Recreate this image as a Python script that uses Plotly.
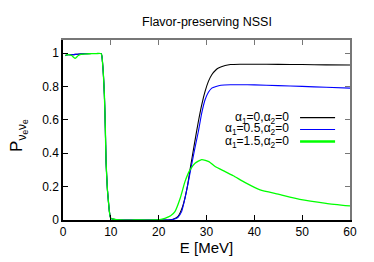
import plotly.graph_objects as go

# Energy grids and survival probabilities
E_black = [0.5, 1, 2, 3, 4, 5, 6, 7, 8, 8.3, 8.65, 8.85, 9.0, 9.27, 9.5, 9.7, 10.0, 12, 15, 20, 22, 23, 24, 25, 26, 26.55, 27.5, 28.3, 29, 29.7, 30.4, 31.1, 32, 32.5, 33.9, 35, 37, 40, 45, 50, 55, 60]
P_black = [0.985, 0.99, 0.99, 0.993, 0.995, 0.996, 0.997, 0.997, 0.996, 0.93, 0.75, 0.55, 0.35, 0.19, 0.11, 0.05, 0.01, 0.0, 0.0, 0.0, 0.0, 0.005, 0.02, 0.08, 0.2, 0.30, 0.46, 0.59, 0.69, 0.77, 0.83, 0.87, 0.90, 0.91, 0.925, 0.931, 0.933, 0.933, 0.932, 0.931, 0.929, 0.928]

E_blue = [0.5, 1, 2, 3, 4, 5, 6, 7, 8, 8.3, 8.65, 8.85, 9.0, 9.27, 9.5, 9.7, 10.0, 12, 15, 20, 22, 23, 24, 24.8, 25.5, 26, 26.55, 27.5, 28.3, 29, 29.7, 30.4, 31.1, 32, 33, 35, 37, 40, 45, 50, 55, 60]
P_blue = [0.985, 0.99, 0.99, 0.993, 0.995, 0.996, 0.997, 0.997, 0.996, 0.93, 0.75, 0.55, 0.35, 0.19, 0.11, 0.05, 0.01, 0.0, 0.0, 0.0, 0.0, 0.003, 0.015, 0.05, 0.13, 0.2, 0.28, 0.42, 0.53, 0.64, 0.72, 0.765, 0.79, 0.80, 0.807, 0.81, 0.81, 0.809, 0.805, 0.80, 0.795, 0.79]

E_green = [0.5, 1, 1.8, 2.5, 3.2, 4, 5, 6, 7, 8, 8.3, 8.65, 8.85, 9.0, 9.27, 9.5, 9.7, 10.0, 12, 15, 19, 20.5, 21.3, 22.5, 23.4, 24.5, 25.5, 26.55, 27.6, 29, 30.5, 31.8, 33.9, 35.6, 38, 41.2, 45, 49.5, 55, 60]
P_green = [0.985, 0.99, 0.985, 0.968, 0.985, 0.993, 0.995, 0.996, 0.997, 0.996, 0.93, 0.75, 0.55, 0.35, 0.19, 0.11, 0.05, 0.01, 0.0, 0.0, 0.0, 0.004, 0.01, 0.025, 0.05, 0.13, 0.23, 0.30, 0.34, 0.362, 0.35, 0.32, 0.29, 0.265, 0.225, 0.18, 0.155, 0.124, 0.10, 0.084]

legend_labels = ["α<sub>1</sub>=0,α<sub>2</sub>=0",
                 "α<sub>1</sub>=0.5,α<sub>2</sub>=0",
                 "α<sub>1</sub>=1.5,α<sub>2</sub>=0"]
colors = ["#000000", "#0000ff", "#00ff00"]
widths = [1.1, 1.1, 1.3]

x_ticks = [0, 10, 20, 30, 40, 50, 60]
y_ticks = [0, 0.2, 0.4, 0.6, 0.8, 1]
y_tick_text = ["0", "0.2", "0.4", "0.6", "0.8", "1"]

fig = go.Figure()
series = [(E_black, P_black), (E_blue, P_blue), (E_green, P_green)]
for (ex, py), c, w, lab in zip(series, colors, widths, legend_labels):
    fig.add_trace(go.Scatter(x=ex, y=py, mode="lines", line=dict(color=c, width=w, shape="spline", smoothing=0.5),
                             name=lab, showlegend=False))
# helper trace so the mirrored frame axes are drawn
fig.add_trace(go.Scatter(x=[None], y=[None], xaxis="x2", yaxis="y2", showlegend=False, hoverinfo="skip"))

# the page body has an 8px margin, so the figure is offset by 8px
font = "Liberation Sans, Arial, sans-serif"
fig.update_layout(
    width=374, height=262,
    margin=dict(l=55, r=32, t=32, b=50),
    paper_bgcolor="white", plot_bgcolor="white",
    font=dict(family=font, size=12, color="black"),
    showlegend=False,
    xaxis=dict(range=[0, 60], tickvals=x_ticks, ticks="inside", ticklen=5, tickcolor="black",
               showline=True, linecolor="black", linewidth=1.5, showgrid=False, zeroline=False,
               tickfont=dict(size=12), title=dict(text="E [MeV]", font=dict(size=15), standoff=4)),
    yaxis=dict(range=[0, 1.078], tickvals=y_ticks, ticktext=y_tick_text, ticks="inside", ticklen=5,
               tickcolor="black", showline=True, linecolor="black", linewidth=1.5, showgrid=False,
               zeroline=False, tickfont=dict(size=12)),
    xaxis2=dict(range=[0, 60], overlaying="x", side="top", tickvals=x_ticks, ticks="inside", ticklen=5,
                tickcolor="#777777", showline=True, linecolor="#777777", linewidth=1.5,
                showticklabels=False, showgrid=False, zeroline=False),
    yaxis2=dict(range=[0, 1.078], overlaying="y", side="right", tickvals=y_ticks, ticks="inside", ticklen=5,
                tickcolor="#777777", showline=True, linecolor="#777777", linewidth=2,
                showticklabels=False, showgrid=False, zeroline=False),
)

annotations = [
    dict(text="Flavor-preserving NSSI", x=0.5, y=1 + (40 - 22) / 180.0, xref="paper", yref="paper",
         showarrow=False, yanchor="middle", font=dict(size=12.5)),
    dict(text="P<sub>ν<sub>e</sub>ν<sub>e</sub></sub>", textangle=-90, xref="paper", yref="paper",
         x=-0.155, y=0.47, xanchor="center", yanchor="middle", showarrow=False, font=dict(size=17)),
]

rows_y = [0.569, 0.503, 0.436]
shapes = []
for lab, c, w, ry in zip(legend_labels, colors, widths, rows_y):
    annotations.append(dict(text=lab, xref="paper", yref="paper", x=0.795, y=ry, xanchor="right",
                            yanchor="middle", showarrow=False, font=dict(size=12)))
    shapes.append(dict(type="line", xref="paper", yref="paper", x0=0.826, x1=0.948, y0=ry, y1=ry,
                       line=dict(color=c, width=w if c != "#00ff00" else 2.5)))
fig.update_layout(annotations=annotations, shapes=shapes)

fig.write_html("out.html")
